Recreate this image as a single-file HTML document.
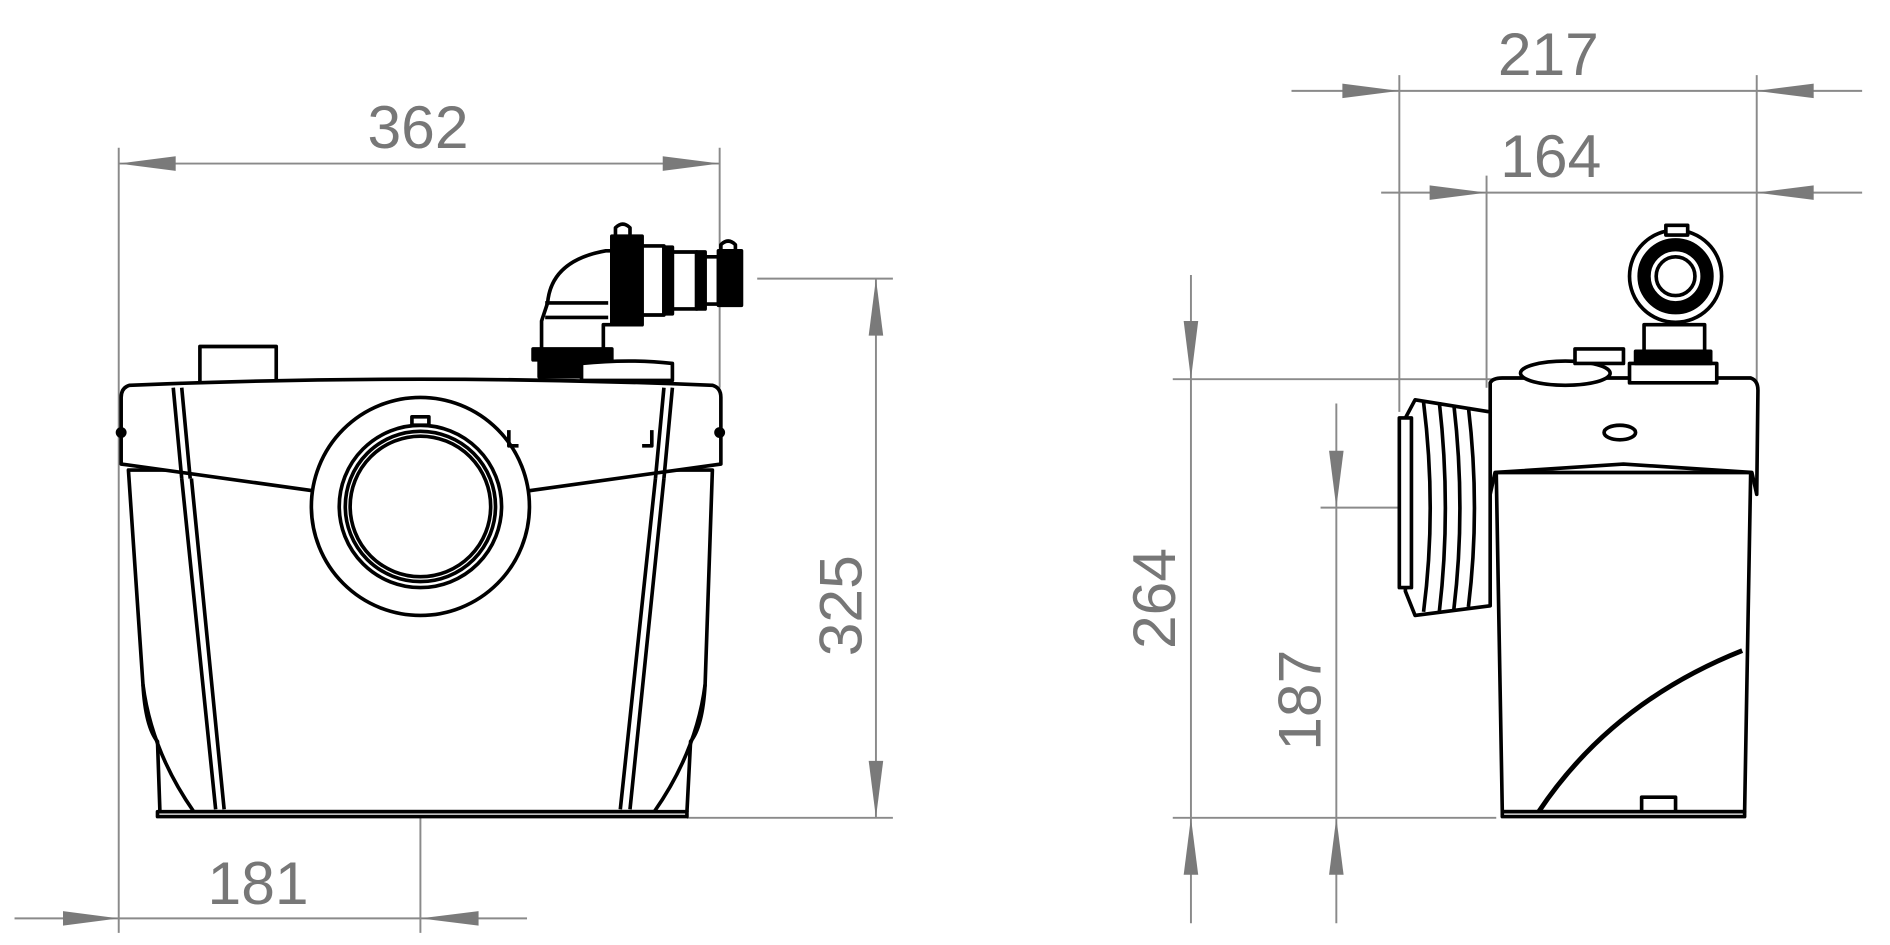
<!DOCTYPE html>
<html><head><style>html,body{margin:0;padding:0;background:#fff}svg{display:block}</style></head>
<body>
<svg width="1890" height="945" viewBox="0 0 1560 780" preserveAspectRatio="none" xmlns="http://www.w3.org/2000/svg">
<g stroke="#8a8a8a" stroke-width="1.6" fill="none">
<line x1="98" y1="122" x2="98" y2="770"/><line x1="594" y1="122" x2="594" y2="320"/>
<line x1="98" y1="135" x2="594" y2="135"/>
<line x1="723" y1="230" x2="723" y2="675"/><line x1="625" y1="230" x2="737" y2="230"/><line x1="567" y1="675" x2="737" y2="675"/>
<line x1="12" y1="758" x2="435" y2="758"/><line x1="347" y1="345" x2="347" y2="770"/>
<line x1="1066" y1="75" x2="1537" y2="75"/><line x1="1155" y1="62" x2="1155" y2="340"/><line x1="1450" y1="62" x2="1450" y2="315"/>
<line x1="1140" y1="159" x2="1537" y2="159"/><line x1="1227" y1="145" x2="1227" y2="320"/>
<line x1="983" y1="227" x2="983" y2="762"/><line x1="968" y1="313" x2="1235" y2="313"/><line x1="968" y1="675" x2="1235" y2="675"/>
<line x1="1103" y1="333" x2="1103" y2="762"/><line x1="1090" y1="419" x2="1160" y2="419"/>
<line x1="290" y1="418" x2="405" y2="418" stroke-dasharray="14,5"/>
<line x1="1360" y1="228" x2="1405" y2="228" stroke-dasharray="10,4"/>
</g>
<g fill="#7a7a7a">
<path d="M98,135 L145,129 L145,141Z"/><path d="M594,135 L547,129 L547,141Z"/>
<path d="M723,230 L717,277 L729,277Z"/><path d="M723,675 L717,628 L729,628Z"/>
<path d="M98,758 L52,752 L52,764Z"/><path d="M347,758 L395,752 L395,764Z"/>
<path d="M1155,75 L1108,69 L1108,81Z"/><path d="M1450,75 L1497,69 L1497,81Z"/>
<path d="M1227,159 L1180,153 L1180,165Z"/><path d="M1450,159 L1497,153 L1497,165Z"/>
<path d="M983,313 L977,265 L989,265Z"/><path d="M983,675 L977,722 L989,722Z"/>
<path d="M1103,419 L1097,372 L1109,372Z"/><path d="M1103,675 L1097,722 L1109,722Z"/>
</g>
<g fill="#777" font-family="Liberation Sans, sans-serif" font-size="50" text-anchor="middle">
<text x="345" y="122">362</text>
<text x="213" y="746">181</text>
<text x="1278" y="62">217</text>
<text x="1280" y="146">164</text>
<text transform="translate(711,500) rotate(-90)">325</text>
<text transform="translate(970,494) rotate(-90)">264</text>
<text transform="translate(1090,578) rotate(-90)">187</text>
</g>
<g stroke="#000" stroke-width="3" fill="#fff" stroke-linejoin="round">
<rect x="165" y="286" width="63" height="31"/>
<path d="M106,388 L118,565 Q125,620 160,670 L540,670 Q575,620 582,565 L588,388Z"/>
<path d="M118,565 Q120,600 130,612 L132,670 M582,565 Q580,600 570,612 L567,670" fill="none"/>
<path d="M150,395 L178,668 M158,395 L185,668 M548,395 L520,668 M541,395 L512,668" fill="none"/>
<path d="M130,670 L567,670 L567,674 L130,674Z"/>
<path d="M107,318 Q347,308 588,318 Q595,320 595,328 L595,383 L437,405 L258,405 L100,383 L100,328 Q100,320 107,318Z"/>
<path d="M143,320 L150,395 M150,320 L157,395 M548,320 L541,395 M555,320 L548,395" fill="none"/>
<circle cx="347" cy="418" r="90"/><circle cx="347" cy="418" r="67"/><circle cx="347" cy="418" r="62"/><circle cx="347" cy="418" r="58" fill="none"/>
<rect x="340" y="344" width="14" height="7"/>
<rect x="440" y="288" width="65" height="9" fill="#000"/>
<rect x="445" y="297" width="35" height="14" fill="#000"/>
<path d="M480,300 Q520,296 555,300 L555,314 L480,314Z"/>
<path d="M447,288 L447,265 L452,250 Q455,215 500,207 L505,207 L505,268 L498,268 L498,288Z"/>
<line x1="450" y1="262" x2="502" y2="262"/><line x1="450" y1="250" x2="502" y2="250"/>
<rect x="505" y="195" width="25" height="73" fill="#000"/>
<rect x="530" y="203" width="18" height="57"/>
<rect x="548" y="204" width="7" height="55" fill="#000"/>
<rect x="555" y="208" width="20" height="47"/>
<rect x="575" y="208" width="7" height="47" fill="#000"/>
<rect x="582" y="212" width="11" height="39"/>
<rect x="593" y="207" width="19" height="45" fill="#000"/>
<path d="M508,195 L508,188 Q514,182 520,188 L520,195" fill="none"/>
<path d="M595,207 L595,202 Q601,196 607,202 L607,207" fill="none"/>
<circle cx="100" cy="357" r="3" fill="#000"/><circle cx="594" cy="357" r="3" fill="#000"/>
<path d="M420,355 L420,368 L428,368 M538,355 L538,368 L530,368" fill="none"/>
</g>
<g stroke="#000" stroke-width="3" fill="#fff" stroke-linejoin="round">
<path d="M1235,390 L1240,670 L1440,670 L1445,390Z"/>
<path d="M1270,670 Q1330,580 1438,537" fill="none" stroke-width="4"/>
<rect x="1240" y="670" width="200" height="4"/>
<rect x="1355" y="658" width="28" height="12"/>
<path d="M1230,316 Q1232,312 1240,312 L1445,312 Q1451,314 1451,322 L1450,408 L1446,390 L1340,383 L1234,390 L1230,408Z"/>
<ellipse cx="1337" cy="357" rx="13" ry="6"/>
<path d="M1160,345 L1168,330 L1230,340 L1230,500 L1168,508 L1160,488Z"/>
<path d="M1175,332 Q1186,420 1175,505 M1188,332 Q1198,420 1188,505 M1200,334 Q1210,420 1200,503 M1212,336 Q1222,420 1212,501" fill="none"/>
<rect x="1155" y="345" width="10" height="140"/>
<ellipse cx="1292" cy="308" rx="37" ry="10"/>
<rect x="1300" y="288" width="40" height="12"/>
<rect x="1345" y="300" width="72" height="16"/>
<rect x="1350" y="290" width="62" height="10" fill="#000"/>
<path d="M1357,290 L1357,268 L1407,268 L1407,290Z"/>
<circle cx="1383" cy="228" r="38"/><circle cx="1383" cy="228" r="30" fill="#000"/><circle cx="1383" cy="228" r="22"/><circle cx="1383" cy="228" r="16"/>
<rect x="1375" y="186" width="18" height="8"/>
</g>
</svg>
</body></html>
